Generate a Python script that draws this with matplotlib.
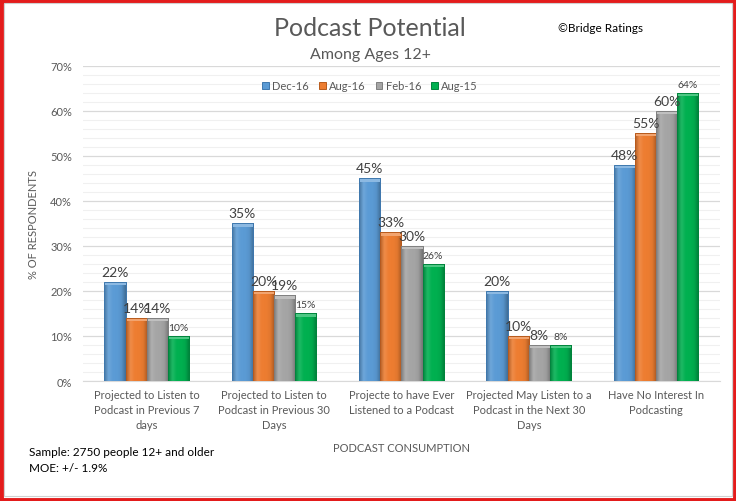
import matplotlib
matplotlib.use('Agg')
import matplotlib.pyplot as plt
import numpy as np
from matplotlib.patches import Rectangle
from matplotlib.ticker import MultipleLocator, FuncFormatter
from matplotlib.colors import LinearSegmentedColormap, to_rgb

categories = ["Projected to Listen to\nPodcast in Previous 7\ndays",
              "Projected to Listen to\nPodcast in Previous 30\nDays",
              "Projecte to have Ever\nListened to a Podcast",
              "Projected May Listen to a\nPodcast in the Next 30\nDays",
              "Have No Interest In\nPodcasting"]
series_names = ["Dec-16", "Aug-16", "Feb-16", "Aug-15"]
dec16 = [22, 35, 45, 20, 48]
aug16 = [14, 20, 33, 10, 55]
feb16 = [14, 19, 30, 8, 60]
aug15 = [10, 15, 26, 8, 64]
series = [dec16, aug16, feb16, aug15]
colors = ["#5B9BD5", "#ED7D31", "#A5A5A5", "#00B050"]
edges = ["#3F78AE", "#B85A1C", "#7F7F7F", "#00843C"]
label_sizes = [10, 10, 10, 7.5]

plt.rcParams['font.family'] = ['Lato', 'DejaVu Sans']


def shade(c, f):
    r = np.array(to_rgb(c))
    if f >= 0:
        return tuple(r + (1 - r) * f)
    return tuple(r * (1 + f))


fig = plt.figure(figsize=(7.36, 5.02), dpi=100)
ax = fig.add_axes([0.1128, 0.239, 0.978 - 0.1128, 0.867 - 0.239])

x = np.arange(len(categories))
w = 0.166
grad = np.linspace(0, 1, 64).reshape(1, -1)
for i, (vals, c, ec, ls) in enumerate(zip(series, colors, edges, label_sizes)):
    pos = x + (i - 1.5) * w
    bars = ax.bar(pos, vals, width=w, color=c, edgecolor=ec, linewidth=0.7,
                  label=series_names[i], zorder=3)
    cmap = LinearSegmentedColormap.from_list(
        f"g{i}", [shade(c, -0.25), shade(c, 0.12), c, c, shade(c, -0.05), shade(c, -0.3)])
    for b in bars:
        bx, by = b.get_x(), b.get_y()
        bw, bh = b.get_width(), b.get_height()
        im = ax.imshow(grad, cmap=cmap, aspect='auto', extent=(bx, bx + bw, by, by + bh),
                       zorder=3.1, interpolation='bicubic')
        im.set_clip_path(b)
        top = Rectangle((bx, by + bh - 0.7), bw, 0.7, facecolor=shade(c, 0.3),
                        edgecolor='none', zorder=3.2)
        ax.add_patch(top)
        top.set_clip_path(b)
        ax.add_patch(Rectangle((bx, by), bw, bh, fill=False, edgecolor=ec,
                               linewidth=0.7, zorder=3.3))
    for p, v in zip(pos, vals):
        ax.annotate(f"{v:.0f}%", (p, v), xytext=(0, 3), textcoords='offset points',
                    ha='center', va='bottom', fontsize=ls, color='#404040', zorder=4)

ax.set_xlim(-0.5, len(categories) - 0.5)
ax.set_ylim(0, 70)
ax.yaxis.set_major_locator(MultipleLocator(10))
ax.yaxis.set_minor_locator(MultipleLocator(2))
ax.yaxis.set_major_formatter(FuncFormatter(lambda v, p: f"{v:.0f}%"))
ax.grid(axis='y', which='major', color='#D9D9D9', linewidth=0.9, zorder=0)
ax.grid(axis='y', which='minor', color='#F0F0F0', linewidth=0.8, zorder=0)
ax.set_axisbelow(True)
for s in ['top', 'right', 'left']:
    ax.spines[s].set_visible(False)
ax.spines['bottom'].set_color('#D9D9D9')
ax.tick_params(axis='y', which='both', length=0, labelsize=8, labelcolor='#595959', pad=8)
ax.tick_params(axis='x', length=0, labelsize=8, labelcolor='#595959', pad=6)
ax.set_xticks(x)
ax.set_xticklabels(categories, linespacing=1.45)
ax.set_xlabel("PODCAST CONSUMPTION", fontsize=8, color='#595959', labelpad=8)
ax.set_ylabel("% OF RESPONDENTS", fontsize=8, color='#595959', labelpad=8)

leg = ax.legend(loc='center', bbox_to_anchor=(370 / 736, 1 - 87 / 502), bbox_transform=fig.transFigure,
                ncol=4, frameon=False, fontsize=8, handlelength=0.6, handleheight=0.6,
                handletextpad=0.3, columnspacing=0.9)
for t in leg.get_texts():
    t.set_color('#595959')

fig.text(370 / 736, 1 - 28 / 502, "Podcast Potential", ha='center', va='center',
         fontsize=18, color='#595959', fontweight='normal')
fig.text(370 / 736, 1 - 55 / 502, "Among Ages 12+", ha='center', va='center',
         fontsize=11.5, color='#595959', fontweight='normal')
fig.text(600 / 736, 1 - 29 / 502, "©Bridge Ratings", ha='center', va='center',
         fontsize=8.5, color='#000000')
fig.text(29 / 736, 1 - 453 / 502, "Sample: 2750 people 12+ and older", ha='left', va='center',
         fontsize=8.5, color='#000000')
fig.text(29 / 736, 1 - 469 / 502, "MOE: +/- 1.9%", ha='left', va='center',
         fontsize=8.5, color='#000000')

fig.patches.append(Rectangle((0.5 / 736, 1 / 502), 1 - 2 / 736, 1 - 2.5 / 502,
                             transform=fig.transFigure, fill=False,
                             edgecolor='#E31B1B', linewidth=3.5, zorder=10))
fig.patches.append(Rectangle((4 / 736, 5 / 502), 1 - 8 / 736, 1 - 9 / 502,
                             transform=fig.transFigure, fill=False,
                             edgecolor='#D0D0D0', linewidth=0.8, zorder=10))

fig.savefig("out.png", dpi=100)
